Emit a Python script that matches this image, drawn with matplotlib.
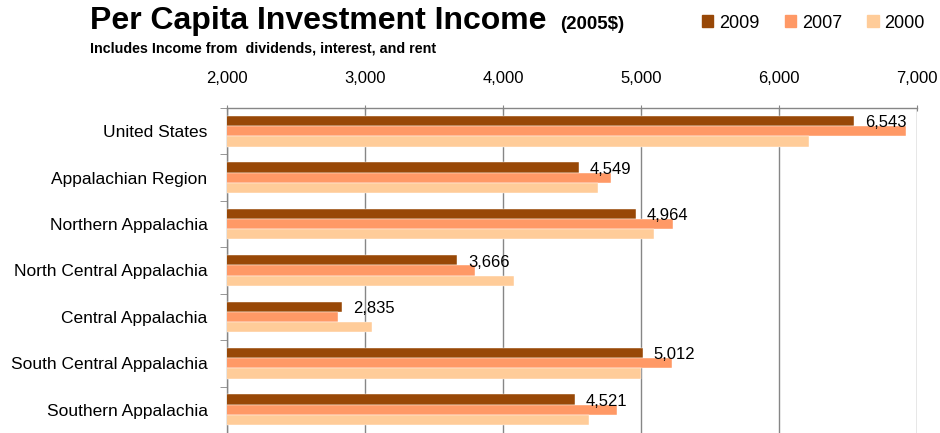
import numpy as np
import matplotlib
matplotlib.use("Agg")
import matplotlib.pyplot as plt
from matplotlib.patches import Patch

regions = ["United States", "Appalachian Region", "Northern Appalachia",
           "North Central Appalachia", "Central Appalachia",
           "South Central Appalachia", "Southern Appalachia"]
inc_2009 = [6543, 4549, 4964, 3666, 2835, 5012, 4521]
inc_2007 = [6918, 4782, 5233, 3795, 2803, 5223, 4823]
inc_2000 = [6215, 4687, 5097, 4078, 3050, 5000, 4625]
xticks = [2000, 3000, 4000, 5000, 6000, 7000]

c2009 = '#984807'
c2007 = '#FF9966'
c2000 = '#FFCC99'
grey = '#868686'

plt.rcParams['font.family'] = ['Liberation Sans', 'DejaVu Sans']

fig = plt.figure(figsize=(9.4, 4.33), dpi=100)
ax = fig.add_axes([227 / 940, 0.0, 690 / 940, 0.7506])

y = np.arange(len(regions))
h = 0.22
ax.barh(y - h, inc_2009, height=h, color=c2009, edgecolor='white', linewidth=0.3, zorder=3)
ax.barh(y, inc_2007, height=h, color=c2007, edgecolor='white', linewidth=0.3, zorder=3)
ax.barh(y + h, inc_2000, height=h, color=c2000, edgecolor='white', linewidth=0.3, zorder=3)

# labels only for 2009
for yi, v in zip(y, inc_2009):
    ax.text(v + 80, yi - h + 0.04, f"{v:,}", va='center', ha='left', fontsize=12,
            zorder=4)

ax.set_xlim(2000, 7000)
ax.set_ylim(len(regions) - 0.5, -0.5)
ax.set_xticks(xticks)
ax.set_xticklabels([f"{t:,}" for t in xticks], fontsize=12)
ax.xaxis.tick_top()
ax.tick_params(axis='x', direction='inout', length=5, color=grey, pad=13)
ax.grid(axis='x', color=grey, linewidth=1.0, zorder=0)

ax.set_yticks(y)
ax.set_yticklabels(regions, fontsize=12.5)
ax.set_yticks(np.arange(-0.5, len(regions) + 0.5, 1), minor=True)
ax.tick_params(axis='y', which='major', length=0, pad=14)
ax.tick_params(axis='y', which='minor', length=5, color=grey, direction='out')

for s in ['right', 'bottom']:
    ax.spines[s].set_visible(False)
for s in ['left', 'top']:
    ax.spines[s].set_color(grey)
    ax.spines[s].set_linewidth(1.0)

fig.text(0.096, 0.933, "Per Capita Investment Income", fontsize=23, fontweight='bold',
         va='baseline', ha='left')
fig.text(560 / 940, 0.933, "(2005$)", fontsize=13.5, fontweight='bold',
         va='baseline', ha='left')
fig.text(0.096, 0.878, "Includes Income from  dividends, interest, and rent", fontsize=10.3,
         fontweight='bold', va='baseline', ha='left')

handles = [Patch(color=c2009), Patch(color=c2007), Patch(color=c2000)]
fig.legend(handles, ["2009", "2007", "2000"], loc='center right',
           bbox_to_anchor=(934 / 940, 1 - 23 / 433), ncol=3, frameon=False,
           borderpad=0, handlelength=0.66, handleheight=0.66, handletextpad=0.3,
           columnspacing=1.4, prop={'size': 13})

fig.savefig("out.png", dpi=100)
